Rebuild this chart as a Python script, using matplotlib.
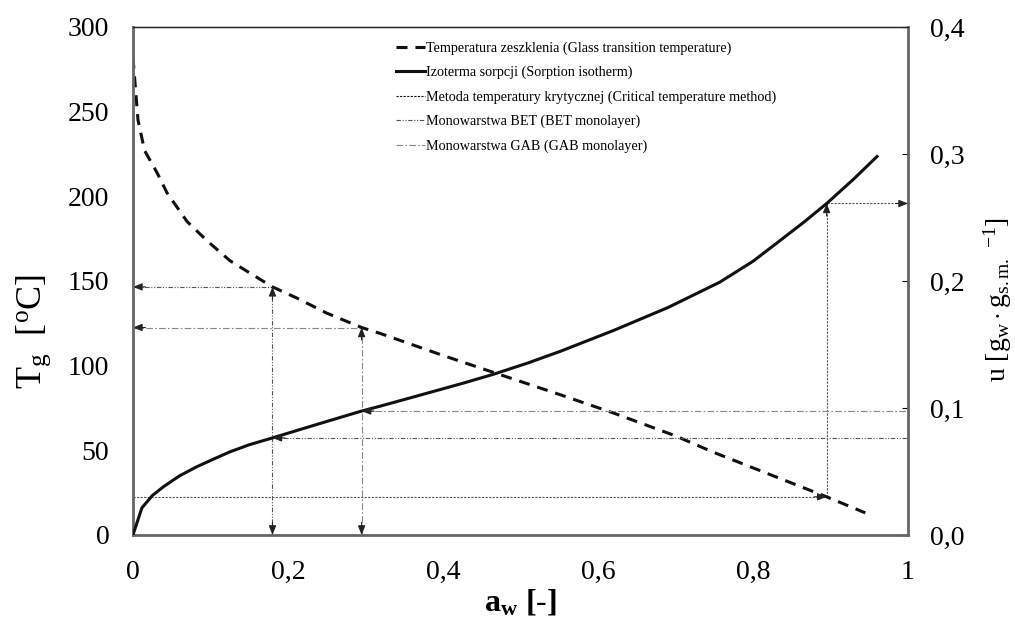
import numpy as np
import matplotlib.pyplot as plt
from matplotlib.lines import Line2D

plt.rcParams['font.family'] = 'Liberation Serif'
plt.rcParams['mathtext.fontset'] = 'custom'
plt.rcParams['mathtext.rm'] = 'Liberation Serif'
plt.rcParams['mathtext.it'] = 'Liberation Serif:italic'
plt.rcParams['mathtext.bf'] = 'Liberation Serif:bold'

# glass transition temperature curve
aw_tg = [0, 0.0065, 0.015, 0.031, 0.044, 0.07, 0.095, 0.125, 0.155, 0.18,
         0.211, 0.25, 0.295, 0.319, 0.40, 0.465, 0.55, 0.62, 0.70, 0.748,
         0.82, 0.895, 0.945]
tg = [282, 245, 227, 214, 202, 185, 174, 162, 153.5, 146.5,
      140, 131, 122.5, 119, 106, 96, 83, 72, 58.5, 49,
      36, 22.5, 13]

# sorption isotherm
aw_u = [0, 0.0115, 0.025, 0.039, 0.06, 0.082, 0.105, 0.125, 0.15, 0.18,
        0.235, 0.293, 0.319, 0.37, 0.426, 0.465, 0.51, 0.551, 0.62, 0.69,
        0.757, 0.80, 0.831, 0.865, 0.895, 0.93, 0.96]
u = [0, 0.0213, 0.031, 0.0378, 0.0465, 0.0536, 0.0600, 0.0654, 0.0710, 0.0764,
     0.0866, 0.0972, 0.1014, 0.1100, 0.1195, 0.1265, 0.1355, 0.1445, 0.161, 0.179,
     0.199, 0.2155, 0.230, 0.246, 0.261, 0.2803, 0.298]

# water activities used for the three methods
aw_bet = 0.18
aw_gab = 0.295
aw_crit = 0.895

labels = ['Temperatura zeszklenia (Glass transition temperature)',
          'Izoterma sorpcji (Sorption isotherm)',
          'Metoda temperatury krytycznej (Critical temperature method)',
          'Monowarstwa BET (BET monolayer)',
          'Monowarstwa GAB (GAB monolayer)']

ls_crit = (0, (2, 1.2))
ls_bet = (0, (4, 1.5, 1, 1.5, 1, 1.5))
ls_gab = (0, (6, 2, 1.5, 2))
c_crit = '#555555'
c_bet = '#555555'
c_gab = '#888888'


def head(ax, x, y, dx, dy):
    # small arrowhead at (x, y), coming from direction (dx, dy) in points
    ax.annotate('', xy=(x, y), xytext=(dx, dy), textcoords='offset points',
                arrowprops=dict(arrowstyle='-|>,head_length=0.55,head_width=0.22',
                                color='#222222', lw=0.8, shrinkA=0, shrinkB=0),
                annotation_clip=False, zorder=5)


fig = plt.figure(figsize=(10.15, 6.22), dpi=100)
ax = fig.add_axes([0.131, 0.140, 0.7636, 0.8166])
ax2 = ax.twinx()

ax.set_xlim(0, 1)
ax.set_ylim(0, 300)
ax2.set_ylim(0, 0.4)

ax.plot(aw_tg, tg, color='#111111', lw=2.2, ls=(0, (3.6, 2.6)), zorder=4)
ax2.plot(aw_u, u, color='#111111', lw=2.2, zorder=4)

# BET and GAB: from isotherm to right axis, and from Tg curve down/left
for aw, ls, c in [(aw_bet, ls_bet, c_bet), (aw_gab, ls_gab, c_gab)]:
    t = np.interp(aw, aw_tg, tg)
    uu = np.interp(aw, aw_u, u)
    ax2.plot([aw, 1], [uu, uu], ls=ls, color=c, lw=0.8)
    head(ax2, aw, uu, 9, 0)
    ax.plot([aw, aw], [0, t], ls=ls, color=c, lw=0.8)
    head(ax, aw, t, 0, -9)
    head(ax, aw, 0, 0, 9)
    ax.plot([0, aw], [t, t], ls=ls, color=c, lw=0.8)
    head(ax, 0, t, 9, 0)

# critical temperature method
t_c = np.interp(aw_crit, aw_tg, tg)
u_c = np.interp(aw_crit, aw_u, u)
ax.plot([0, aw_crit], [t_c, t_c], ls=ls_crit, color=c_crit, lw=0.8)
head(ax, aw_crit, t_c, -9, 0)
ax.plot([aw_crit, aw_crit], [t_c, u_c * 750], ls=ls_crit, color=c_crit, lw=0.8)
head(ax, aw_crit, u_c * 750, 0, -9)
ax2.plot([aw_crit, 1], [u_c, u_c], ls=ls_crit, color=c_crit, lw=0.8)
head(ax2, 1, u_c, -9, 0)

ax.set_xticks([0, 0.2, 0.4, 0.6, 0.8, 1])
ax.set_xticklabels(['0', '0,2', '0,4', '0,6', '0,8', '1'])
ax.set_yticks(range(0, 301, 50))
ax2.set_yticks([0, 0.1, 0.2, 0.3, 0.4])
ax2.set_yticklabels(['0,0', '0,1', '0,2', '0,3', '0,4'])
ax.tick_params(axis='y', labelsize=20, length=0, pad=17)
ax.tick_params(axis='x', labelsize=20, length=0, pad=18)
ax2.tick_params(labelsize=20, length=4, direction='in', pad=16)

ax.set_xlabel(r'$\mathbf{a_w}$ $\mathbf{[\text{-}]}$', fontsize=23, labelpad=2)
ax.set_ylabel(r'T$_\mathrm{g}$  [$^\mathrm{o}$C]', fontsize=26)
ax.yaxis.set_label_coords(-0.103, 0.40)
ax2.set_ylabel(r'u [g$_\mathrm{w}\cdot$g$_\mathrm{s.m.}$ $^{-1}$]', fontsize=20,
               rotation=90)
ax2.yaxis.set_label_coords(1.095, 0.463)

for sp in ['left', 'bottom', 'right']:
    ax2.spines[sp].set_color('#666666')
    ax2.spines[sp].set_linewidth(2)
ax2.spines['top'].set_color('#222222')
ax2.spines['top'].set_linewidth(1)

handles = [Line2D([], [], color='#111111', lw=2.2, ls=(0, (3.6, 2.6))),
           Line2D([], [], color='#111111', lw=2.2),
           Line2D([], [], color='#111111', lw=0.8, ls=ls_crit),
           Line2D([], [], color=c_bet, lw=0.8, ls=ls_bet),
           Line2D([], [], color=c_gab, lw=0.8, ls=ls_gab)]
ax2.legend(handles, labels, loc='upper left', bbox_to_anchor=(0.34, 0.972),
           frameon=False, fontsize=10.2, handlelength=2.0, handletextpad=0.1,
           labelspacing=0.78, borderpad=0, borderaxespad=0)

fig.savefig('out.png', dpi=100)
